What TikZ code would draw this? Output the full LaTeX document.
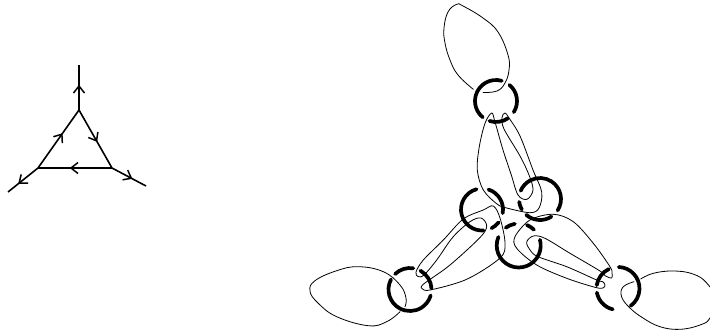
\documentclass[tikz,border=0pt]{standalone}
\usetikzlibrary{arrows.meta,decorations.markings}
\newcommand{\ringpart}[4]{\draw[ringarc] (#1) ++(#2:#4pt) arc[start angle=#2,end angle=#3,radius=#4pt];}
\tikzset{
  graphedge/.style={line width=1.6pt,black,postaction={decorate},
    decoration={markings,mark=at position #1 with {\arrow{Straight Barb[length=7pt,width=11pt,line width=1.5pt]}}}},
  ringarc/.style={line width=3.7pt,black,line cap=round},
  strand/.style={line width=0.8pt,black,line cap=round,line join=round},
}
\begin{document}
\begin{tikzpicture}[x=1pt,y=-1pt]
\useasboundingbox (0,0) rectangle (710,332);
% left graph
\coordinate (T) at (79,65);
\coordinate (A) at (79,110);
\coordinate (L) at (38,168);
\coordinate (R) at (112,168);
\coordinate (LE) at (8,192);
\coordinate (RE) at (146,186);
\draw[graphedge=0.56] (A) -- (T);
\draw[graphedge=0.60] (L) -- (A);
\draw[graphedge=0.55] (A) -- (R);
\draw[graphedge=0.57] (R) -- (L);
\draw[graphedge=0.66] (L) -- (LE);
\draw[graphedge=0.60] (R) -- (RE);
% thin strands: outer petals
\draw[strand] plot[smooth,tension=0.7] coordinates {(473.3,89.3) (458,75) (450,60) (445,43) (444,28) (448,12) (456.7,4.3) (463,6) (483,18) (498,32) (508,55) (509,70) (505,83) (497,91) (483,92.5)};
\draw[strand] plot[smooth,tension=0.7] coordinates {(400,311.7) (386.7,321.7) (368.3,325.7) (336.7,316.7) (318,303) (310,291) (315,280.7) (336.7,270.7) (358.3,266.7) (383.3,271.7) (400,285) (406,298) (405,306.7)};
\draw[strand] plot[smooth,tension=0.7] coordinates {(640.7,279) (653.3,273.3) (673.3,271) (693,274) (706.7,283) (716,300) (710,318) (700,325) (680,329.3) (660,326.7) (643,318) (630,308) (621.7,297) (623,287) (634,281.7)};
% thin strands: three arms
\draw[strand] plot[smooth cycle,tension=0.55] coordinates {(491.7,113) (485,123.3) (479.3,146.7) (477.3,170) (483.3,190) (497,204) (506.7,208) (530,212.7) (539,208) (541.7,192) (533,170) (520,136) (509,118) (505,113) (502,117.5) (504,129) (520,156) (529,175) (533,190) (527,199.3) (518,195) (511,174) (503,150) (495,122)};
\draw[strand] plot[smooth cycle,tension=0.55] coordinates {(416,272) (423.3,260) (443.3,240) (463.3,219) (483.3,210) (493.3,206) (500,218) (505,243) (500,258) (466.7,279.3) (430,290) (422,288.5) (421.7,286) (426.7,281.7) (450,265) (480,237.5) (486.7,226) (481,218) (470,221.7) (453,237) (436.7,260) (424,275) (418,276.5)};
\draw[strand] plot[smooth cycle,tension=0.55] coordinates {(610,266.7) (593.3,243.3) (573.3,221.7) (553.3,214.3) (530,220) (515,236.7) (516.7,248.3) (536.7,265) (566.7,278.3) (595,287.3) (603,288) (605,285) (602.7,281.7) (596.7,280) (566.7,266.7) (538,256.7) (530,250) (526.7,242) (533.3,236) (545,238.3) (570,253.3) (600,271) (605,275.7) (611.7,278) (612,273)};
% rings
\coordinate (r1) at (496,101);
\coordinate (r2) at (540,199);
\coordinate (r3) at (482,209.5);
\coordinate (r4) at (518.7,245.5);
\coordinate (r5) at (410,289.5);
\coordinate (r6) at (618,288.5);
\ringpart{r1}{74}{231}{21}
\ringpart{r1}{50}{-32}{21}
\ringpart{r1}{252}{304}{21}
\ringpart{r2}{-33}{157}{21}
\ringpart{r2}{188}{210}{21}
\ringpart{r2}{229}{303}{21}
\ringpart{r3}{105}{274}{21}
\ringpart{r3}{72}{-10}{21}
\ringpart{r3}{297}{322}{21}
\ringpart{r4}{157}{375}{22}
\ringpart{r4}{126}{100}{22}
\ringpart{r4}{68}{46}{22}
\ringpart{r5}{81}{134}{21.5}
\ringpart{r5}{152}{344}{21.5}
\ringpart{r5}{61}{3}{21.5}
\ringpart{r6}{88}{-54}{21.5}
\ringpart{r6}{256}{191}{21.5}
\ringpart{r6}{171}{115}{21.5}
\end{tikzpicture}
\end{document}
